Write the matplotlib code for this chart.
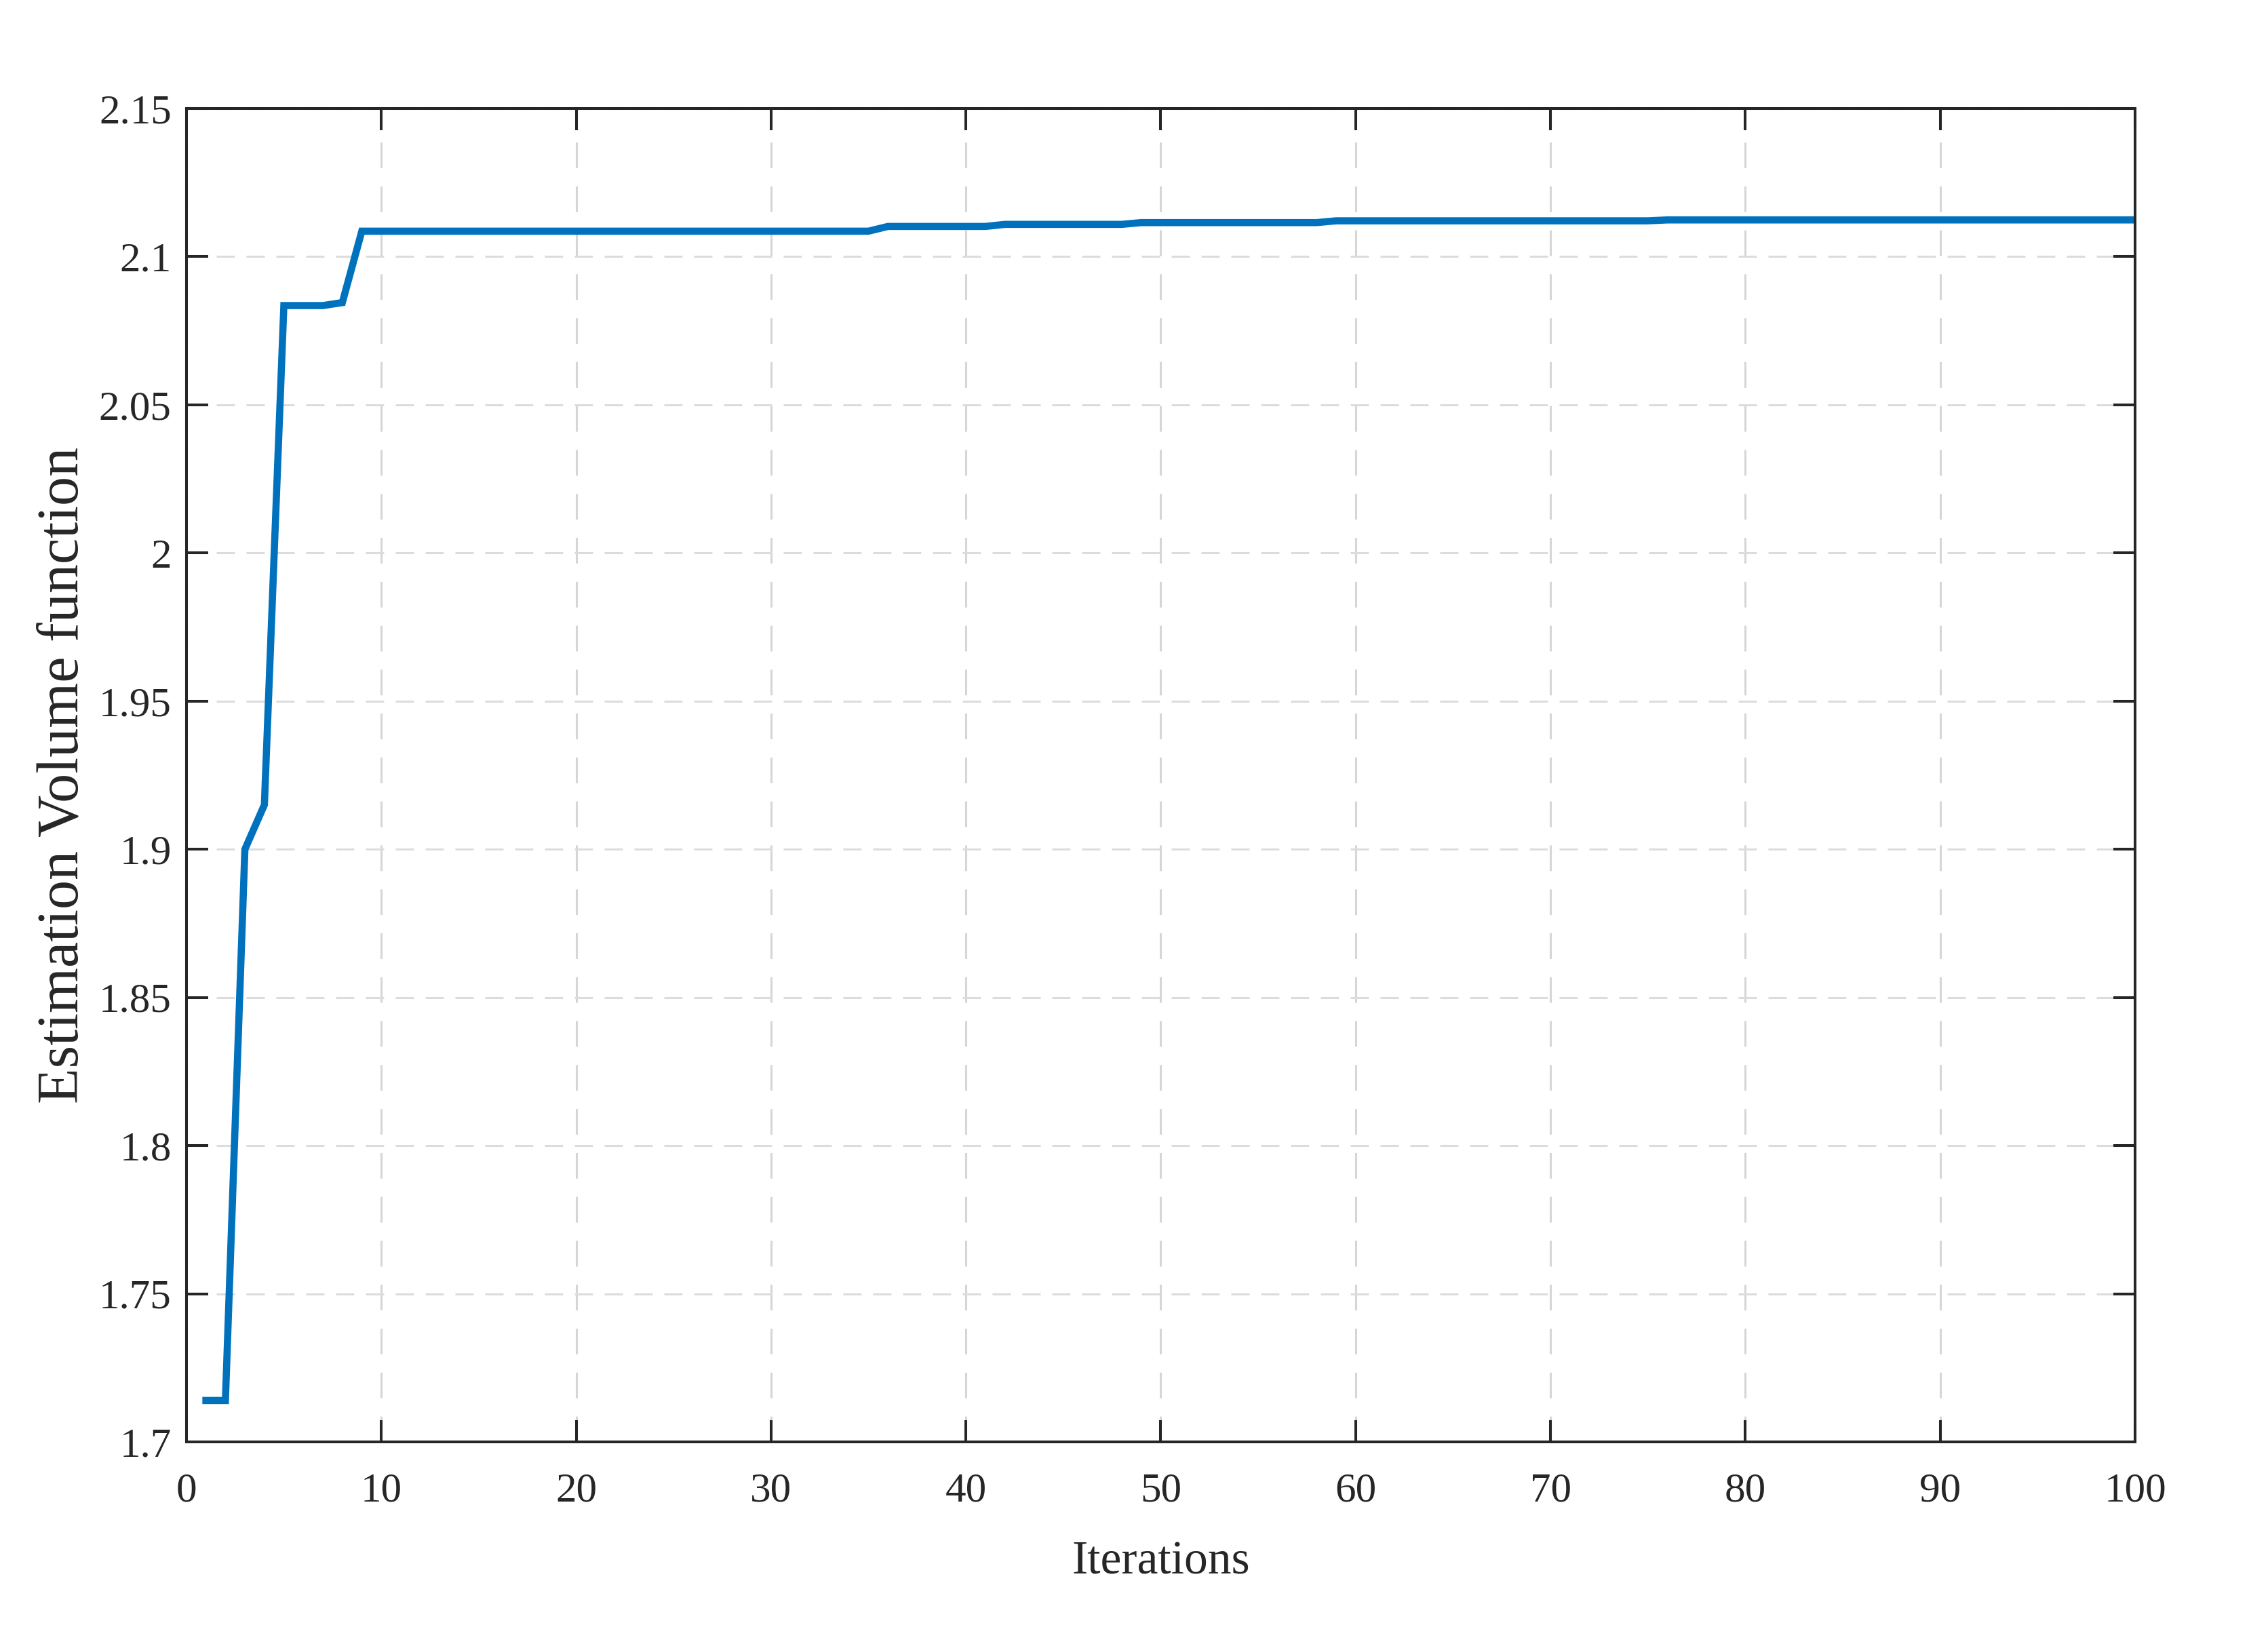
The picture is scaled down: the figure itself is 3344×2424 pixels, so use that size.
from matplotlib import pyplot as plt

iterations = list(range(1, 101))
volume = [
    1.714, 1.714, 1.900, 1.915, 2.0835, 2.0835, 2.0835, 2.0845, 2.1086, 2.1086,
    2.1086, 2.1086, 2.1086, 2.1086, 2.1086, 2.1086, 2.1086, 2.1086, 2.1086, 2.1086,
    2.1086, 2.1086, 2.1086, 2.1086, 2.1086, 2.1086, 2.1086, 2.1086, 2.1086, 2.1086,
    2.1086, 2.1086, 2.1086, 2.1086, 2.1086, 2.1102, 2.1102, 2.1102, 2.1102, 2.1102,
    2.1102, 2.1109, 2.1109, 2.1109, 2.1109, 2.1109, 2.1109, 2.1109, 2.1115, 2.1115,
    2.1115, 2.1115, 2.1115, 2.1115, 2.1115, 2.1115, 2.1115, 2.1115, 2.1121, 2.1121,
    2.1121, 2.1121, 2.1121, 2.1121, 2.1121, 2.1121, 2.1121, 2.1121, 2.1121, 2.1121,
    2.1121, 2.1121, 2.1121, 2.1121, 2.1121, 2.1124, 2.1124, 2.1124, 2.1124, 2.1124,
    2.1124, 2.1124, 2.1124, 2.1124, 2.1124, 2.1124, 2.1124, 2.1124, 2.1124, 2.1124,
    2.1124, 2.1124, 2.1124, 2.1124, 2.1124, 2.1124, 2.1124, 2.1124, 2.1124, 2.1124,
]
xticks = [0, 10, 20, 30, 40, 50, 60, 70, 80, 90, 100]
yticks = [1.7, 1.75, 1.8, 1.85, 1.9, 1.95, 2.0, 2.05, 2.1, 2.15]
ytick_labels = ["1.7", "1.75", "1.8", "1.85", "1.9", "1.95", "2", "2.05", "2.1", "2.15"]

plt.rcParams["font.family"] = ["Liberation Serif", "DejaVu Serif"]

fig = plt.figure(figsize=(16.72, 12.12), dpi=200)
ax = fig.add_axes([0.0822, 0.1229, 0.8592, 0.8111])

ax.plot(iterations, volume, color="#0072BD", linewidth=3.8, solid_joinstyle="miter")

ax.set_xlim(0, 100)
ax.set_ylim(1.7, 2.15)
ax.set_xticks(xticks)
ax.set_yticks(yticks)
ax.set_yticklabels(ytick_labels)

ax.xaxis.grid(True, color="#D6D6D6", linewidth=1.1, linestyle=(0, (12.4, 8.8)))
ax.yaxis.grid(True, color="#DCDCDC", linewidth=1.1, linestyle=(0, (8.8, 5.6)))
ax.set_axisbelow(True)

for s in ax.spines.values():
    s.set_linewidth(1.45)
    s.set_color("#262626")

ax.tick_params(direction="in", top=True, right=True, length=11.5, width=1.45,
               color="#262626", labelsize=22, labelcolor="#262626")
ax.tick_params(axis="x", pad=16)
ax.tick_params(axis="y", pad=8)

ax.set_xlabel("Iterations", fontsize=25, color="#262626", va="center")
ax.set_ylabel("Estimation Volume function", fontsize=31, color="#262626", va="center")
ax.xaxis.set_label_coords(0.5, -0.0905)
ax.yaxis.set_label_coords(-0.063, 0.5)

fig.savefig("out.png", dpi=200)
